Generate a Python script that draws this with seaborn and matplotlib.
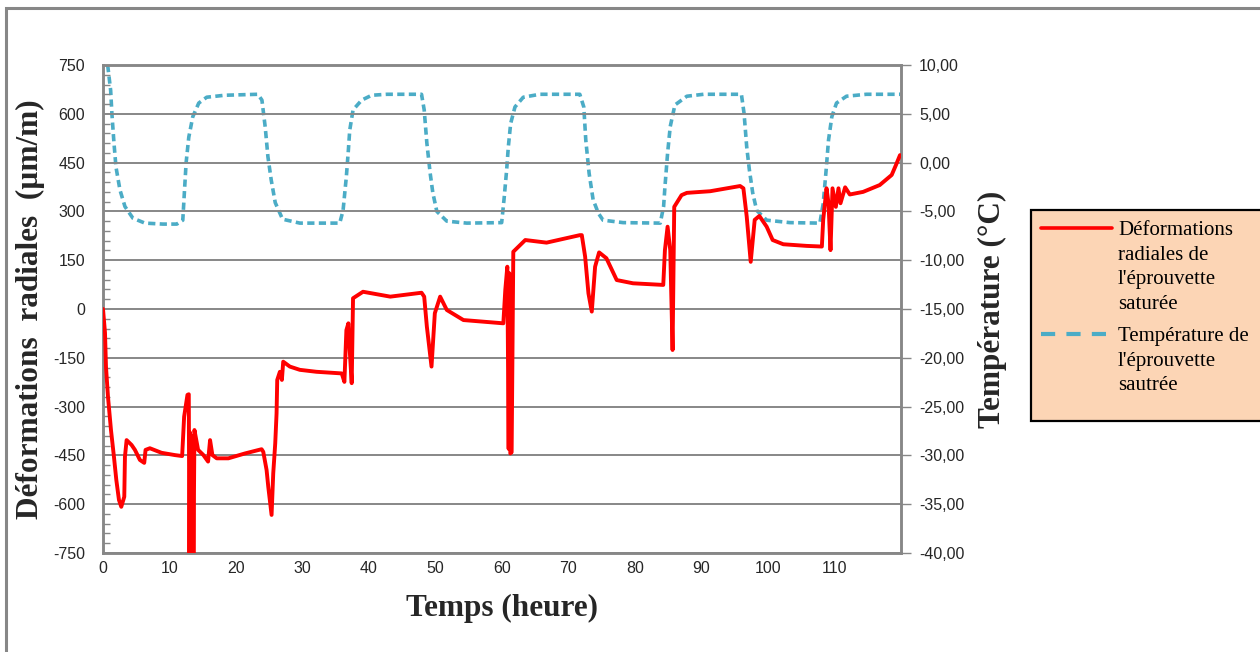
import matplotlib
matplotlib.use("Agg")
import matplotlib.pyplot as plt
from matplotlib.lines import Line2D
from matplotlib.patches import Rectangle
from matplotlib.ticker import MultipleLocator, FixedLocator, FuncFormatter
import pandas as pd
import seaborn as sns

# --- values ---
# red curve : radial strain of the saturated specimen (µm/m), left axis
temps_def = [0.0, 0.3, 0.45, 0.75, 1.2, 1.65, 2.0, 2.4, 2.75, 3.2, 3.3, 3.55, 4.3, 4.8,
             5.55, 6.2, 6.4, 7.05, 8.8, 10.8, 11.9, 12.2, 12.7, 12.9, 13.0, 13.1, 13.2,
             13.3, 13.4, 13.5, 13.6, 13.75, 14.3, 15.1, 15.8, 16.1, 16.45, 17.1, 18.85,
             21.35, 23.85, 24.1, 24.6, 24.85, 25.35, 25.6, 25.9, 26.1, 26.2, 26.6, 26.9,
             27.1, 28.1, 29.6, 32.1, 35.9, 36.3, 36.6, 36.9, 37.1, 37.4, 37.6, 39.1, 43.2,
             47.9, 48.3, 48.7, 49.4, 49.9, 50.7, 51.7, 54.2, 57.2, 60.2, 60.5, 60.8, 61.0,
             61.1, 61.25, 61.45, 61.7, 63.5, 66.7, 71.7, 72.0, 72.5, 73.0, 73.5, 74.0, 74.6,
             75.7, 77.25, 79.7, 84.25, 84.5, 84.9, 85.3, 85.65, 85.9, 87.0, 87.8, 91.3,
             95.8, 96.3, 96.8, 97.4, 98.0, 98.7, 99.8, 100.7, 102.3, 105.8, 108.1, 108.3,
             108.8, 109.1, 109.4, 109.7, 110.2, 110.6, 110.9, 111.6, 112.3, 114.3, 116.8,
             118.6, 119.25, 119.85]
deformation = [0, -73, -178, -270, -372, -455, -525, -587, -608, -577, -454, -403, -418, -433,
               -464, -473, -433, -428, -442, -449, -452, -331, -264, -262, -800, -380, -800,
               -390, -800, -400, -800, -372, -433, -449, -469, -403, -449, -459, -459,
               -444, -431, -439, -495, -546, -633, -505, -413, -321, -218, -193, -218,
               -162, -177, -187, -193, -198, -224, -65, -44, -126, -228, 33, 53, 38,
               50, 38, -54, -177, -13, 38, -3, -34, -39, -44, 60, 130, -430,
               110, -444, -440, 176, 212, 204, 227, 227, 161, 48, -8, 130, 174,
               156, 89, 79, 74, 181, 253, 181, -126, 314, 350, 357, 362,
               378, 371, 284, 145, 274, 286, 253, 212, 199, 194, 192, 274,
               371, 325, 181, 371, 314, 371, 325, 374, 352, 360, 381,
               412, 443, 473]

# blue dashed curve : specimen temperature (°C), right axis
temps_temp = [0.7, 1.15, 1.35, 1.65, 1.95, 2.55, 3.3, 4.5, 6.3, 9.0, 11.1, 12.0, 12.2, 12.5,
              12.9, 13.5, 14.4, 15.6, 18.3, 23.3, 23.9, 24.4, 24.8, 25.3, 25.9, 27.0, 29.6,
              35.6, 36.1, 36.6, 36.9, 37.1, 37.6, 38.9, 40.4, 42.7, 47.9, 48.3, 48.7, 49.2,
              49.6, 50.2, 51.7, 54.7, 59.95, 60.3, 60.7, 60.95, 61.3, 61.95, 63.2, 65.7, 71.7,
              72.3, 72.6, 73.1, 73.7, 74.5, 75.2, 78.2, 83.8, 84.3, 84.5, 84.9, 85.3, 86.0,
              87.8, 90.3, 96.0, 96.4, 96.8, 97.2, 97.7, 98.3, 99.8, 103.3, 107.8, 108.3,
              108.7, 109.1, 109.6, 110.3, 111.8, 114.8, 119.85]
temperature = [10.0, 7.4, 4.9, 2.0, -0.45, -2.8, -4.5, -5.7, -6.2, -6.3, -6.3, -5.9, -3.5, 0.0,
               2.6, 4.7, 6.1, 6.7, 6.9, 7.0, 6.4, 3.6, 0.6, -1.8, -4.1, -5.8, -6.2,
               -6.2, -4.9, -1.4, 1.3, 3.3, 5.4, 6.4, 6.9, 7.0, 7.0, 5.4, 2.0, -1.1,
               -3.1, -5.0, -6.0, -6.2, -6.15, -3.8, -0.75, 1.6, 4.0, 5.7, 6.7, 7.0, 7.0,
               5.7, 2.3, -1.1, -3.8, -5.2, -5.9, -6.15, -6.2, -4.5, -2.5, 0.95, 3.7, 5.9,
               6.8, 7.0, 7.0, 5.05, 1.6, -0.75, -3.1, -4.9, -5.9, -6.15, -6.2, -4.2,
               -1.1, 2.3, 4.7, 6.1, 6.8, 7.0, 7.0]

x_ticks = list(range(0, 120, 10))
y_left_ticks = list(range(-750, 751, 150))
y_right_ticks = list(range(-40, 11, 5))

legend_def = ["Déformations", "radiales de", "l'éprouvette", "saturée"]
legend_temp = ["Température de", "l'éprouvette", "sautrée"]

df_def = pd.DataFrame({"t": temps_def, "v": deformation})
df_temp = pd.DataFrame({"t": temps_temp, "T": temperature})

RED = "#FF0000"
BLUE = "#4BACC6"
GREY = "#878787"
W, H = 1260, 652

sns.set_style("white")
plt.rcParams["font.family"] = ["Liberation Sans", "DejaVu Sans"]


def fx(px):
    return px / W


def fy(py):
    return 1 - py / H


fig = plt.figure(figsize=(W / 100, H / 100), dpi=100)
ax = fig.add_axes([fx(103), fy(553), fx(901) - fx(103), fy(65) - fy(553)])
ax2 = ax.twinx()

sns.lineplot(data=df_def, x="t", y="v", ax=ax, color=RED, linewidth=2.8,
             sort=False, estimator=None, zorder=3)
sns.lineplot(data=df_temp, x="t", y="T", ax=ax2, color=BLUE, linewidth=2.6,
             sort=False, estimator=None, linestyle="--")
ax2.lines[0].set_dashes((2.0, 1.2))
ax2.lines[0].set_solid_joinstyle("round")

# bring the red curve above the twin axes
ax.set_zorder(ax2.get_zorder() + 1)
ax.patch.set_visible(False)

ax.set_xlim(0, 120)
ax.set_ylim(-750, 750)
ax2.set_ylim(-40, 10)

ax.xaxis.set_major_locator(FixedLocator(x_ticks))
ax.xaxis.set_minor_locator(MultipleLocator(5))
ax.yaxis.set_major_locator(FixedLocator(y_left_ticks))
ax.yaxis.set_minor_locator(MultipleLocator(30))
ax2.yaxis.set_major_locator(FixedLocator(y_right_ticks))
ax2.yaxis.set_major_formatter(FuncFormatter(lambda v, p: f"{v:.2f}".replace(".", ",")))
ax.yaxis.set_major_formatter(FuncFormatter(lambda v, p: f"{int(v)}"))

ax.grid(False)
ax2.grid(False)
for v in y_left_ticks:
    ax.axhline(v, color=GREY, lw=1.4, zorder=0)

for a in (ax, ax2):
    for s in a.spines.values():
        s.set_color(GREY)
        s.set_linewidth(1.8)

lab_col = "#262626"
ax.tick_params(axis="x", which="both", direction="in", length=5, width=1, color=GREY,
               labelsize=11.5, labelcolor=lab_col, pad=6)
ax.tick_params(axis="y", which="major", direction="in", length=0, labelsize=11.5,
               labelcolor=lab_col, pad=13)
ax.tick_params(axis="y", which="minor", direction="in", length=5, width=1, color=GREY)
ax2.tick_params(axis="y", which="major", direction="out", length=7, width=1, color=GREY,
                labelsize=11.5, labelcolor=lab_col, pad=6)

serif = ["Liberation Serif", "DejaVu Serif"]
ax.set_xlabel("Temps (heure)", family=serif, fontsize=22.5, fontweight="bold")
ax.set_ylabel("Déformations  radiales  (µm/m)", family=serif, fontsize=22.5, fontweight="bold")
ax2.set_ylabel("Température (°C)", family=serif, fontsize=22.5, fontweight="bold")
ax.xaxis.set_label_coords(0.5, -0.084)
ax.yaxis.set_label_coords(-0.073, 0.5)
ax2.yaxis.set_label_coords(1.0965, 0.5)

# outer chart frame
fig.patches.append(Rectangle((fx(6), -0.1), 1.2, fy(8) + 0.1, transform=fig.transFigure,
                             fill=False, edgecolor=GREY, lw=2.2, zorder=0))

# legend box, drawn by hand so the handles sit next to the first line
fig.patches.append(Rectangle((fx(1031), fy(421)), 0.3, fy(210) - fy(421),
                             transform=fig.transFigure, facecolor="#FCD5B5",
                             edgecolor="black", lw=1.6, zorder=1))
fig.lines.append(Line2D([fx(1041), fx(1112)], [fy(228), fy(228)], transform=fig.transFigure,
                        color=RED, lw=2.6, zorder=2))
fig.lines.append(Line2D([fx(1041), fx(1112)], [fy(334), fy(334)], transform=fig.transFigure,
                        color=BLUE, lw=3.0, dashes=(3.4, 2.7), zorder=2))
for i, txt in enumerate(legend_def):
    fig.text(fx(1118), fy(235 + 24.7 * i), txt, family=serif, fontsize=15,
             va="baseline", ha="left", color="black", zorder=3)
for i, txt in enumerate(legend_temp):
    fig.text(fx(1118), fy(341 + 24.7 * i), txt, family=serif, fontsize=15,
             va="baseline", ha="left", color="black", zorder=3)

fig.savefig("out.png", dpi=100)
